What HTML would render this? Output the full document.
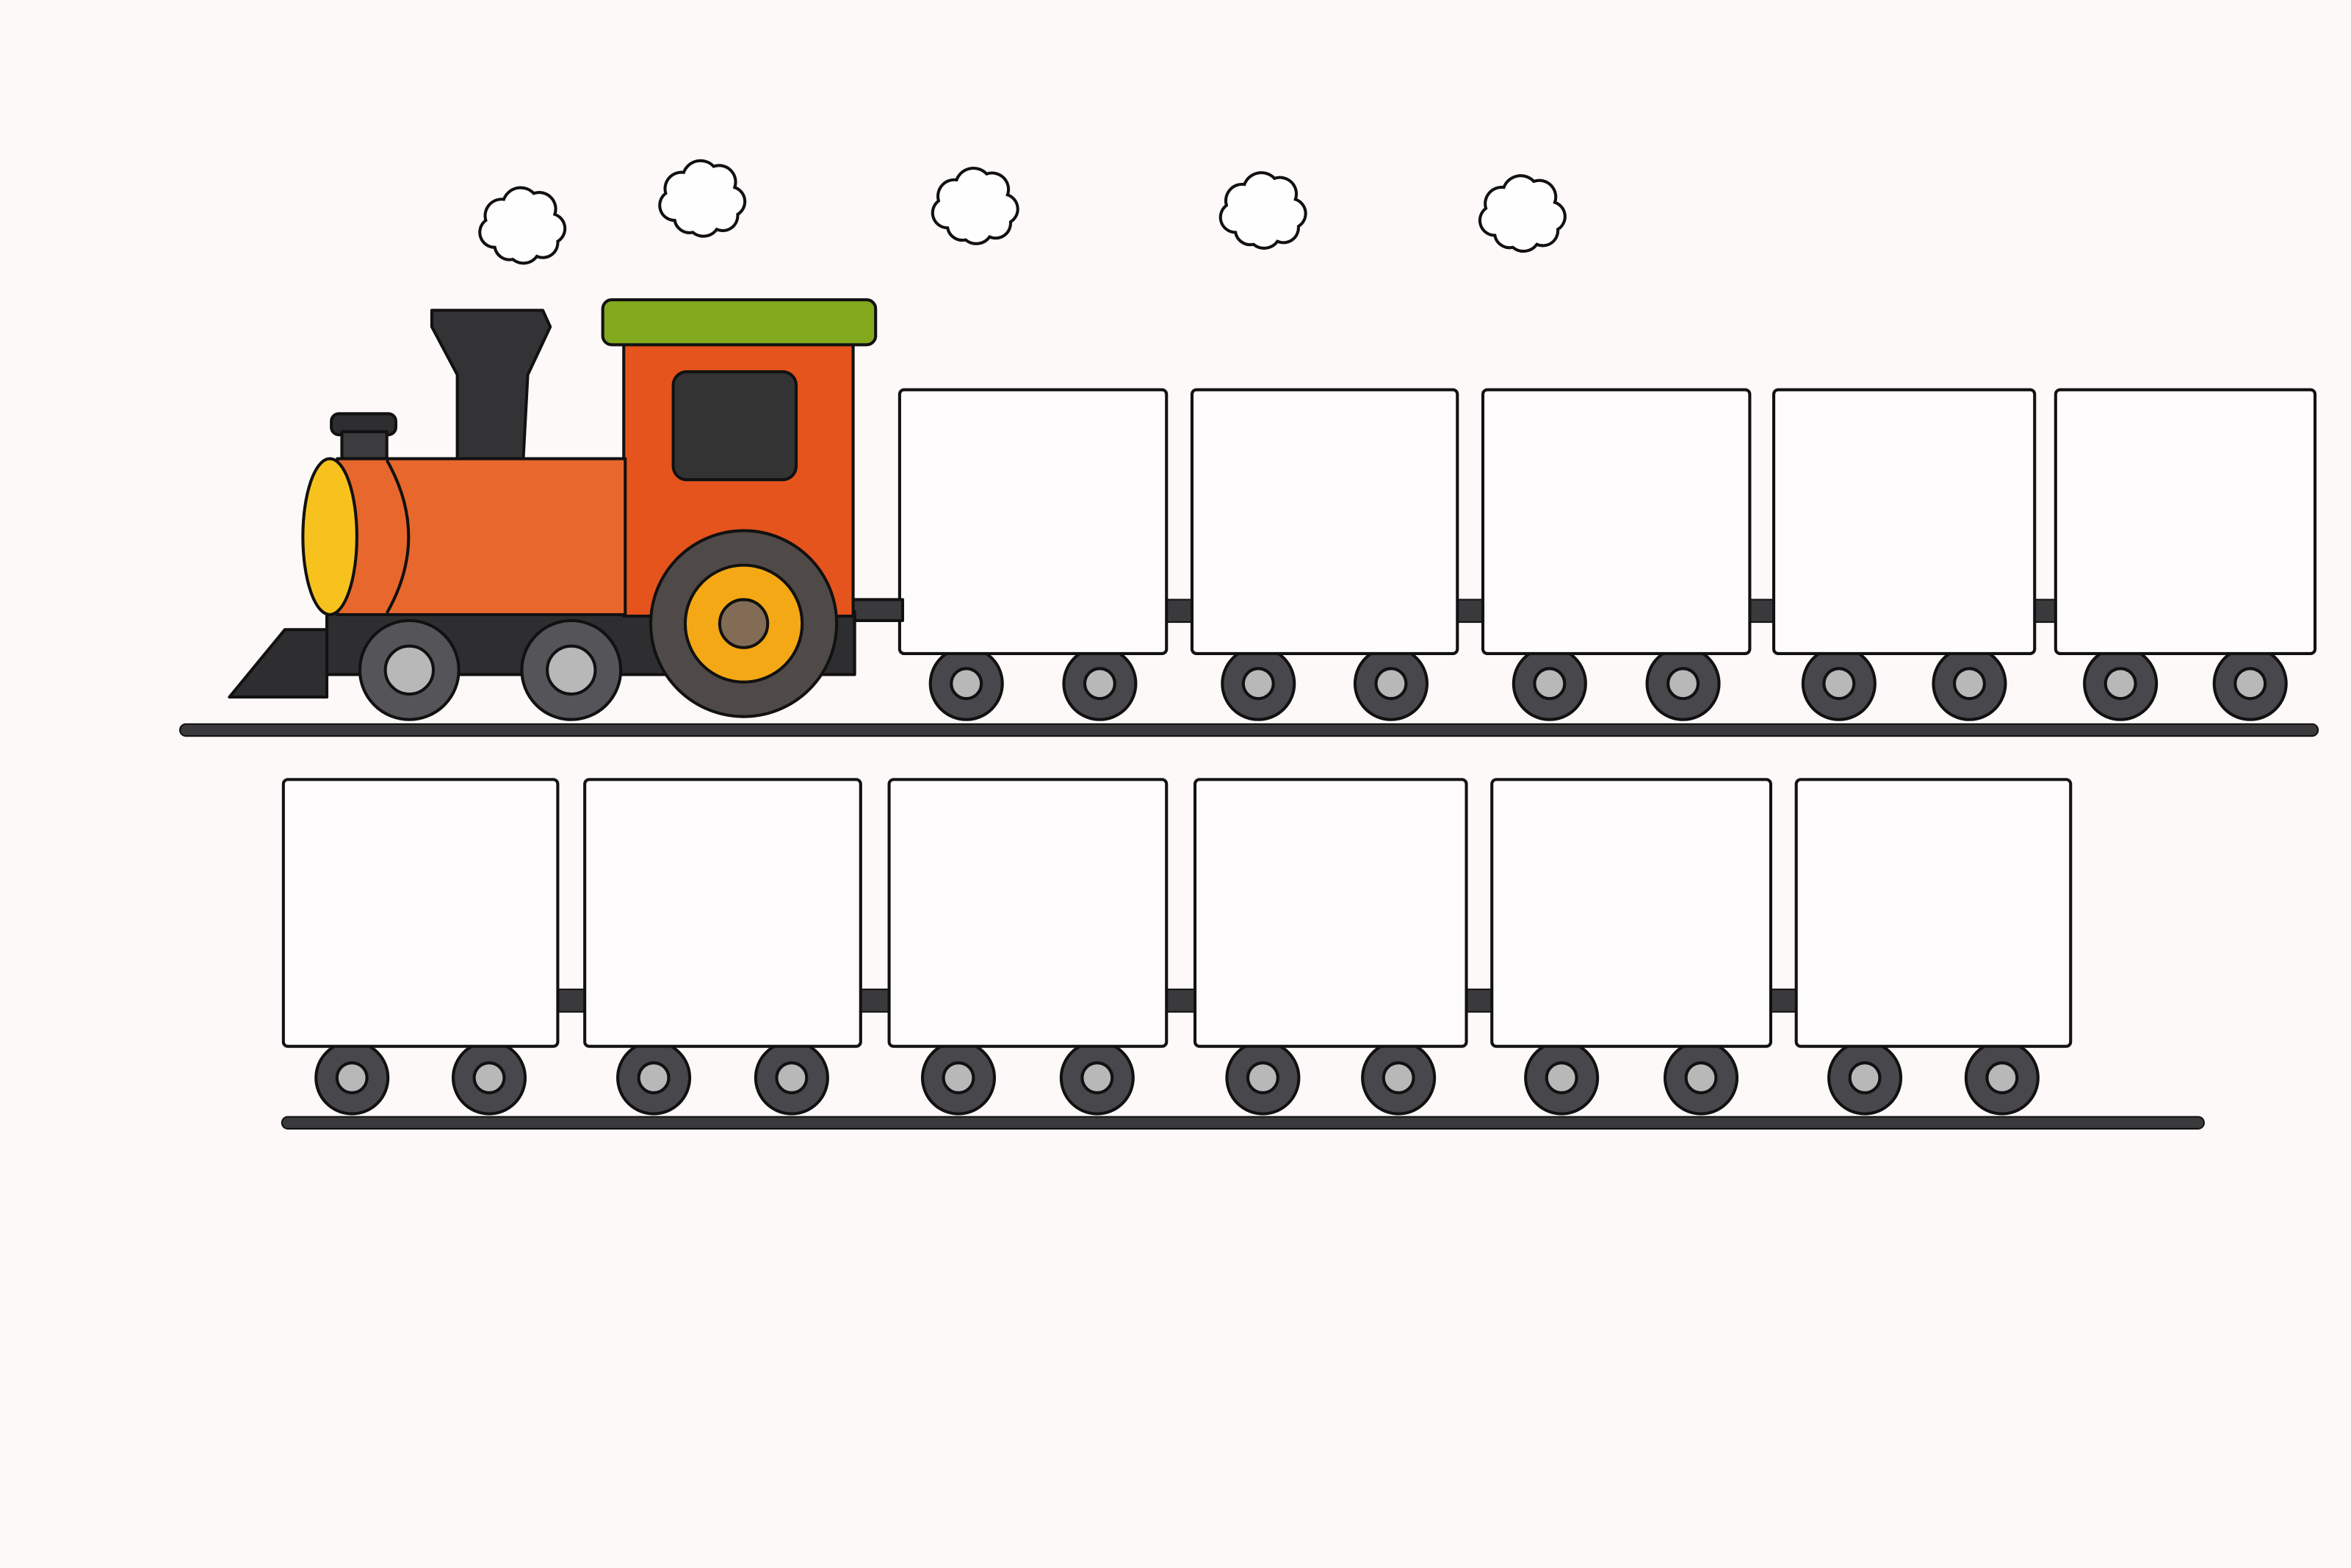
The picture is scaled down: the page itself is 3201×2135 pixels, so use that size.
<!DOCTYPE html>
<html><head><meta charset="utf-8">
<style>
html,body{margin:0;padding:0;background:#fcf9f8;}
svg{display:block;}
</style></head>
<body>
<svg id="scene" width="3201" height="2135" viewBox="0 0 1568 1046" preserveAspectRatio="none" xmlns="http://www.w3.org/2000/svg">
<rect x="0" y="0" width="1568" height="1046" fill="#fcf9f8"/>
<g id="clouds"></g>
<rect x="120" y="483" width="1426" height="8" rx="4" fill="#3a3a3c" stroke="#111" stroke-width="1"/>
<rect x="188" y="745" width="1282" height="8" rx="4" fill="#3a3a3c" stroke="#111" stroke-width="1"/>
<g id="cars"></g>
<g stroke="#111" stroke-width="2" stroke-linejoin="round">
  <rect x="560" y="400" width="42" height="14" fill="#3a3a3c"/>
  <polygon points="153,465 190,420 218,420 218,465" fill="#2e2e30"/>
  <rect x="218" y="408" width="352" height="42" fill="#2e2e30"/>
  <path d="M288,207 L362,207 L367,218 L352,250 L349,306 L305,306 L305,250 L288,218 Z" fill="#333335"/>
  <rect x="221" y="276" width="43" height="14" rx="5" fill="#2e2e30"/>
  <rect x="228" y="288" width="30" height="20" fill="#3c3c3e"/>
  <rect x="416" y="228" width="153" height="183" fill="#e5541d"/>
  <rect x="402" y="200" width="182" height="30" rx="6" fill="#83aa1e"/>
  <rect x="449" y="248" width="82" height="72" rx="9" fill="#333333"/>
  <rect x="225" y="306" width="192" height="104" fill="#e8672c"/>
  <path d="M258,307 Q287,358 258,409" fill="none"/>
  <ellipse cx="220" cy="358" rx="18" ry="52" fill="#f8c21e"/>
  <circle cx="273" cy="447" r="33" fill="#555458"/>
  <circle cx="273" cy="447" r="16" fill="#b8b8b8"/>
  <circle cx="381" cy="447" r="33" fill="#555458"/>
  <circle cx="381" cy="447" r="16" fill="#b8b8b8"/>
  <circle cx="496" cy="416" r="62" fill="#4f4a47"/>
  <circle cx="496" cy="416" r="39" fill="#f5a815"/>
  <circle cx="496" cy="416" r="16" fill="#836c56"/>
</g>
</svg>
<script>
const row1CarX = [600, 795, 989, 1183, 1371];
const row1CarW = [178, 177, 178, 174, 173];
const row2CarX = [189, 390, 593, 797, 995, 1198];
const row2CarW = [183, 184, 185, 181, 186, 183];
const cloudX = [348, 468, 650, 842, 1015];
const cloudY = [153, 135, 140, 143, 145];
const NS = 'http://www.w3.org/2000/svg';
function mk(tag, attrs, parent){ const e=document.createElementNS(NS,tag); for(const k in attrs) e.setAttribute(k,attrs[k]); parent.appendChild(e); return e; }
const cars = document.getElementById('cars');
function drawRow(xs, ws, top, bottom, wy, rowName){
  for(let i=0;i<xs.length;i++){
    if(i<xs.length-1){
      const c = mk('rect',{x:xs[i]+ws[i]-2,y:top+140,width:xs[i+1]-xs[i]-ws[i]+4,height:15,fill:'#3a3a3c',stroke:'#111','stroke-width':1},cars);
      
      
    }
  }
  for(let i=0;i<xs.length;i++){
    const g = mk('g',{},cars);
    
    
    const w = ws[i];
    [0.25,0.75].forEach((f,j)=>{
      const cx = xs[i]+w*f;
      const wh = mk('circle',{cx:cx,cy:wy,r:24,fill:'#48474c',stroke:'#111','stroke-width':2},g);
      
      
      const hb = mk('circle',{cx:cx,cy:wy,r:10,fill:'#b8b8b8',stroke:'#111','stroke-width':2},g);
      
      
    });
    const b = mk('rect',{x:xs[i],y:top,width:w,height:bottom-top,rx:3,fill:'#fdfbfb',stroke:'#111','stroke-width':2},g);
    
    
  }
}
drawRow(row1CarX, row1CarW, 260, 436, 456, 'top-row');
drawRow(row2CarX, row2CarW, 520, 698, 719, 'bottom-row');
const clouds = document.getElementById('clouds');
for(let i=0;i<cloudX.length;i++){
  const x=cloudX[i], y=cloudY[i];
  const d = `M${x-18},${y+12} a10,10 0 0 1 -6,-18 a11,11 0 0 1 12,-14 a12,12 0 0 1 20,-4 a11,11 0 0 1 14,14 a10,10 0 0 1 2,18 a10,10 0 0 1 -14,10 a11,11 0 0 1 -16,2 a10,10 0 0 1 -12,-8 z`;
  const c = mk('path',{d:d,fill:'#fefefe',stroke:'#111','stroke-width':2},clouds);
  
  
}
</script>
</body></html>
